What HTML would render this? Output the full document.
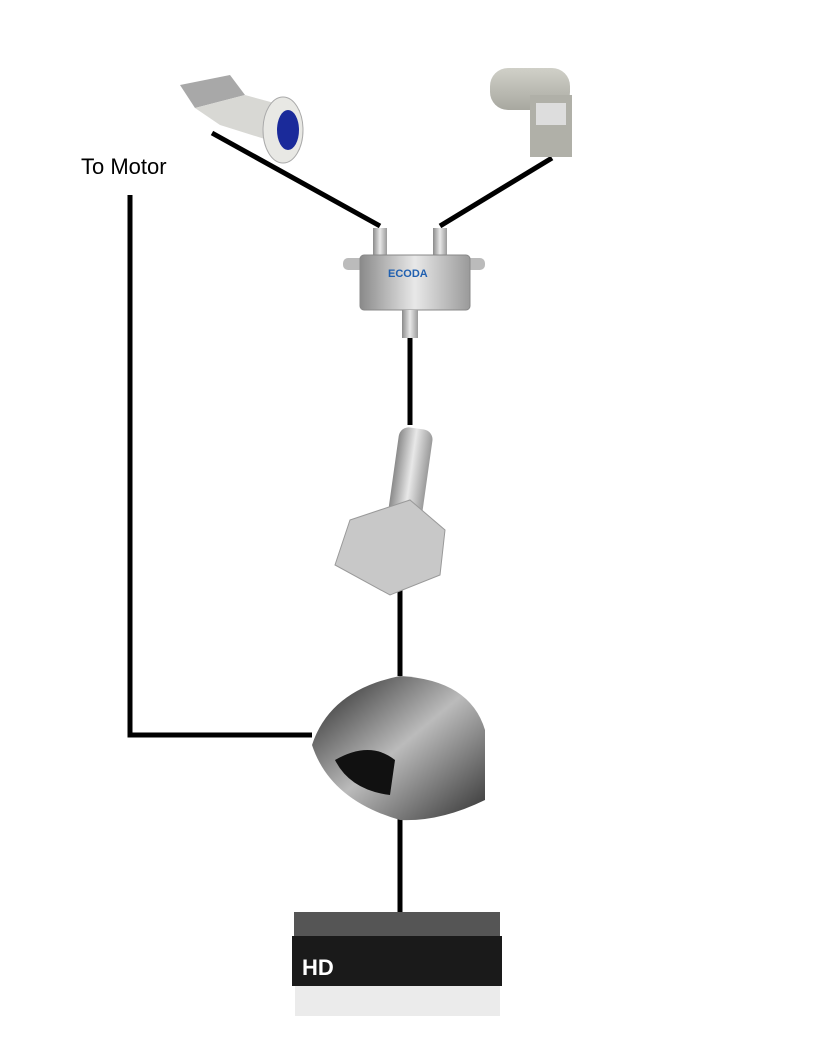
<!DOCTYPE html>
<html><head><meta charset="utf-8"><style>
html,body{margin:0;padding:0;background:#fff;}
#c{position:relative;width:816px;height:1056px;overflow:hidden;}
.t{position:absolute;left:81px;top:154px;font:22px "Liberation Sans",sans-serif;color:#000;}
</style></head><body><div id="c">
<div class="t">To Motor</div>
<svg width="816" height="1056" style="position:absolute;left:0;top:0">
<defs>
<linearGradient id="m" x1="0" y1="0" x2="1" y2="0"><stop offset="0" stop-color="#8a8a8a"/><stop offset=".5" stop-color="#e8e8e8"/><stop offset="1" stop-color="#9a9a9a"/></linearGradient>
<linearGradient id="g" x1="0" y1="0" x2="0" y2="1"><stop offset="0" stop-color="#d0d0c8"/><stop offset="1" stop-color="#a8a8a0"/></linearGradient>
<linearGradient id="r" x1="0" y1="0" x2="1" y2="1"><stop offset="0" stop-color="#222"/><stop offset=".5" stop-color="#bbb"/><stop offset="1" stop-color="#333"/></linearGradient>
</defs>
<g stroke="#000" stroke-width="5" fill="none">
<polyline points="130,195 130,735 312,735"/>
<line x1="212" y1="133" x2="380" y2="226"/>
<line x1="440" y1="226" x2="552" y2="158"/>
<line x1="410" y1="338" x2="410" y2="425"/>
<line x1="400" y1="575" x2="400" y2="676"/>
<line x1="400" y1="815" x2="400" y2="912"/>
</g>
<!-- left LNB -->
<polygon points="180,85 230,75 245,95 195,108" fill="#a8a8a8"/>
<polygon points="195,108 245,95 300,110 300,150 220,125" fill="#d8d8d4"/>
<ellipse cx="283" cy="130" rx="20" ry="33" fill="#e8e8e4" stroke="#aaa"/>
<ellipse cx="288" cy="130" rx="11" ry="20" fill="#1a2a9a"/>
<!-- right LNB -->
<rect x="490" y="68" width="80" height="42" rx="18" fill="url(#g)"/>
<rect x="530" y="95" width="42" height="62" fill="#b0b0a8"/>
<rect x="536" y="103" width="30" height="22" fill="#ddd"/>
<!-- switch -->
<rect x="373" y="228" width="14" height="30" fill="url(#m)"/>
<rect x="433" y="228" width="14" height="30" fill="url(#m)"/>
<rect x="343" y="258" width="142" height="12" rx="5" fill="#bbb"/>
<rect x="360" y="255" width="110" height="55" rx="4" fill="url(#m)" stroke="#888"/>
<text x="388" y="277" font-family="Liberation Sans" font-size="11" font-weight="bold" fill="#2060b0">ECODA</text>
<rect x="402" y="310" width="16" height="28" fill="url(#m)"/>
<!-- motor -->
<rect x="393" y="428" width="34" height="100" rx="10" fill="url(#m)" transform="rotate(8 410 478)"/>
<polygon points="350,520 410,500 445,530 440,575 390,595 335,565" fill="#c8c8c8" stroke="#999"/>
<!-- positioner -->
<path d="M312,745 Q330,690 400,676 Q470,680 485,730 L485,800 Q440,822 400,820 Q330,800 312,745Z" fill="url(#r)"/>
<path d="M335,760 Q370,740 395,760 L390,795 Q350,790 335,760Z" fill="#111"/>
<!-- HD box -->
<rect x="294" y="912" width="206" height="24" fill="#555"/>
<rect x="292" y="936" width="210" height="50" fill="#1a1a1a"/>
<text x="302" y="975" font-family="Liberation Sans" font-size="22" font-weight="bold" fill="#fff">HD</text>
<rect x="295" y="986" width="205" height="30" fill="#ddd" opacity=".6"/>
</svg>
</div></body></html>
